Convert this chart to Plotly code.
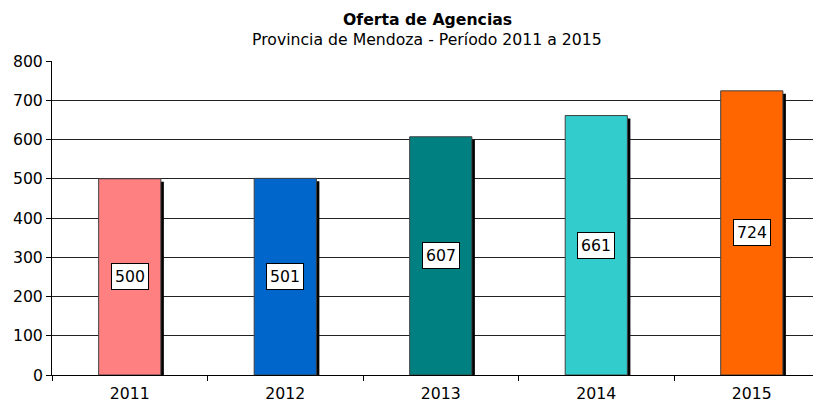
import plotly.graph_objects as go

years = ["2011", "2012", "2013", "2014", "2015"]
values = [500, 501, 607, 661, 724]
colors = ["#FF8080", "#0066CC", "#008080", "#33CCCC", "#FF6600"]
y_ticks = [0, 100, 200, 300, 400, 500, 600, 700, 800]

# page body has an 8px margin; compensate so the plot lands where the reference shows it
OFF = 8
W, H = 821 - OFF, 401 - OFF
ML, MR, MT, MB = 52 - OFF, 0, 61 - OFF, 26
Y_MAX = 800
X_RANGE = [-0.5, 4.445]
plot_h = H - MT - MB
plot_w = W - ML - MR
px_per_unit_y = plot_h / Y_MAX
px_per_cat = plot_w / (X_RANGE[1] - X_RANGE[0])
BAR_W = 0.4
SH_DX = 3 / px_per_cat
SH_DY = 3 / px_per_unit_y
FS = 15.7
FONT = "DejaVu Sans"

fig = go.Figure()
# shadow
fig.add_trace(go.Bar(
    x=years, y=[v - SH_DY for v in values],
    width=BAR_W, offset=-BAR_W / 2 + SH_DX,
    marker=dict(color="black", line=dict(width=0)),
    hoverinfo="skip", showlegend=False,
))
fig.add_trace(go.Bar(
    x=years, y=values,
    width=BAR_W, offset=-BAR_W / 2,
    marker=dict(color=colors, line=dict(color="#404040", width=1)),
    showlegend=False,
))

for i, v in enumerate(values):
    fig.add_annotation(
        x=i, y=v / 2, text=str(v), showarrow=False,
        font=dict(family=FONT, size=FS, color="black"),
        bgcolor="white", bordercolor="black", borderwidth=1, borderpad=3,
    )

TITLE_X = (427 - 52) / plot_w
fig.add_annotation(
    xref="paper", yref="paper", x=TITLE_X, y=1 + (61 - 19) / plot_h,
    text="<b>Oferta de Agencias</b>", showarrow=False,
    font=dict(family=FONT, size=FS, color="black"), yanchor="middle",
)
fig.add_annotation(
    xref="paper", yref="paper", x=TITLE_X, y=1 + (61 - 40) / plot_h,
    text="Provincia de Mendoza - Período 2011 a 2015", showarrow=False,
    font=dict(family=FONT, size=FS, color="black"), yanchor="middle",
)

fig.update_layout(
    width=W, height=H,
    margin=dict(l=ML, r=MR, t=MT, b=MB, autoexpand=False),
    paper_bgcolor="white", plot_bgcolor="white",
    barmode="overlay",
    font=dict(family=FONT, size=FS, color="black"),
    xaxis=dict(
        type="category", range=X_RANGE, tickson="boundaries",
        ticks="outside", ticklen=5, tickcolor="black",
        showline=True, linecolor="black", linewidth=1,
        showgrid=False, zeroline=False, ticklabelstandoff=4,
        tickfont=dict(size=FS),
    ),
    yaxis=dict(
        range=[0, Y_MAX], tickvals=y_ticks,
        ticks="outside", ticklen=5, tickcolor="black",
        showline=True, linecolor="black", linewidth=1,
        showgrid=True, gridcolor="#222222", gridwidth=1,
        zeroline=False, tickfont=dict(size=FS),
    ),
)

fig.write_html("out.html")
